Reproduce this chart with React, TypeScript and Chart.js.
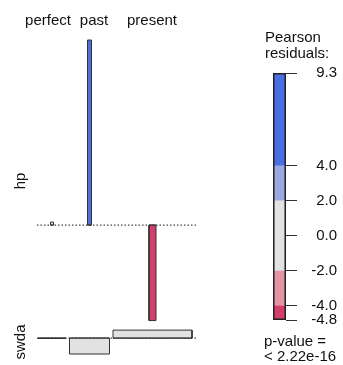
import React, { useEffect, useRef } from "react";
import { Chart, registerables } from "chart.js";

Chart.register(...registerables);

// ---------- data ----------
const rowNames = ["hp", "swda"];
const colNames = ["perfect", "past", "present"];
// Pearson residuals per cell (rows x cols)
const hpResiduals = [0.15, 9.3, -4.8];
const swdaResiduals = [-0.02, -0.8, 0.4];
// expected counts per cell (bar width ~ sqrt(expected))
const hpExpected = [9, 16, 49];
const swdaExpected = [784, 1600, 6241];
// legend
const legendBreaks = [-4.8, -4, -2, 2, 4, 9.3];
const legendTicks = [9.3, 4, 2, 0, -2, -4, -4.8];
const legendTitle = ["Pearson", "residuals:"];
const pValueLines = ["p-value =", "< 2.22e-16"];

const residuals = [hpResiduals, swdaResiduals];
const expected = [hpExpected, swdaExpected];

// ---------- styling ----------
const BLUE = "#4A6FE3";
const LBLUE = "#9DA8E2";
const GRAY = "#E2E2E2";
const PINK = "#E495A5";
const RED = "#D33F6A";
const FONT = "'Liberation Sans', Arial, Helvetica, sans-serif";
const shade = (r: number) =>
  r > 4 ? BLUE : r > 2 ? LBLUE : r >= -2 ? GRAY : r >= -4 ? PINK : RED;

// ---------- layout derived from data ----------
const COL_GAP = 3.5;
const ROW_GAP = 0.48;
const X_PAD = 1;
const widths = expected.map((row) => row.map((e) => Math.sqrt(e)));
const colWidth = colNames.map((_, j) => Math.max(...widths.map((r) => r[j])));
const colStart: number[] = [];
let accX = X_PAD;
colWidth.forEach((w) => {
  colStart.push(accX);
  accX += w + COL_GAP;
});
const xMax = accX - COL_GAP + 4;
const rowTop = residuals.map((r) => Math.max(0, ...r));
const rowBot = residuals.map((r) => Math.min(0, ...r));
const baselines: number[] = [];
rowNames.forEach((_, i) => {
  if (i === 0) baselines.push(0);
  else baselines.push(baselines[i - 1] + rowBot[i - 1] - ROW_GAP - rowTop[i]);
});
const yMax = rowTop[0];
const yMin = baselines[baselines.length - 1] + rowBot[rowBot.length - 1];

const MAIN_W = 240;
const MAIN_H = 365;

function MainChart() {
  const ref = useRef<HTMLCanvasElement | null>(null);
  useEffect(() => {
    if (!ref.current) return;
    const datasets: any[] = [];
    baselines.forEach((b) => {
      datasets.push({
        type: "line",
        data: [
          { x: 0, y: b },
          { x: xMax, y: b },
        ],
        borderColor: "#444444",
        borderWidth: 1.2,
        borderDash: [1.5, 2],
        pointRadius: 0,
        fill: false,
        order: 2,
        clip: false,
      });
    });
    residuals.forEach((row, i) => {
      const b = baselines[i];
      row.forEach((r, j) => {
        const w = widths[i][j];
        const cx = colStart[j] + colWidth[j] / 2;
        const x0 = cx - w / 2;
        const x1 = cx + w / 2;
        const t = b + r;
        datasets.push({
          type: "line",
          data: [
            { x: x0, y: b },
            { x: x0, y: t },
            { x: x1, y: t },
            { x: x1, y: b },
            { x: x0, y: b },
            { x: x1, y: b },
          ],
          fill: "shape",
          backgroundColor: shade(r),
          borderColor: "#333333",
          borderWidth: 1,
          pointRadius: 0,
          tension: 0,
          order: 1,
          clip: false,
        });
      });
    });
    const chart = new Chart(ref.current, {
      type: "line",
      data: { datasets },
      options: {
        animation: false,
        responsive: false,
        devicePixelRatio: 1,
        events: [],
        layout: { padding: { left: 37, right: MAIN_W - 196, top: 40, bottom: MAIN_H - 354 } },
        plugins: { legend: { display: false }, tooltip: { enabled: false } },
        scales: {
          x: { type: "linear", min: 0, max: xMax, display: false },
          y: { type: "linear", min: yMin, max: yMax, display: false },
        },
      } as any,
    });
    return () => chart.destroy();
  }, []);
  return (
    <canvas
      ref={ref}
      width={MAIN_W}
      height={MAIN_H}
      style={{ position: "absolute", left: 0, top: 0, width: MAIN_W, height: MAIN_H }}
    />
  );
}

const LEG_LEFT = 262;
const LEG_TOP = 50;
const LEG_W = 75;
const LEG_H = 293;

function LegendChart() {
  const ref = useRef<HTMLCanvasElement | null>(null);
  useEffect(() => {
    if (!ref.current) return;
    const datasets: any[] = [];
    for (let k = 0; k < legendBreaks.length - 1; k++) {
      const lo = legendBreaks[k];
      const hi = legendBreaks[k + 1];
      datasets.push({
        data: [[lo, hi]],
        backgroundColor: shade((lo + hi) / 2),
        borderWidth: 0,
        grouped: false,
        barPercentage: 1,
        categoryPercentage: 1,
        order: 1,
      });
    }
    datasets.push({
      data: [[legendBreaks[0], legendBreaks[legendBreaks.length - 1]]],
      backgroundColor: "rgba(0,0,0,0)",
      borderColor: "#222222",
      borderWidth: 1.2,
      borderSkipped: false,
      grouped: false,
      barPercentage: 1,
      categoryPercentage: 1,
      order: 0,
    });
    const chart = new Chart(ref.current, {
      type: "bar",
      data: { labels: [""], datasets },
      options: {
        animation: false,
        responsive: false,
        devicePixelRatio: 1,
        events: [],
        layout: { padding: { left: 11, right: 0, top: 20, bottom: 20 } },
        plugins: { legend: { display: false }, tooltip: { enabled: false } },
        scales: {
          x: { display: false },
          y: {
            position: "right",
            min: legendBreaks[0],
            max: legendBreaks[legendBreaks.length - 1],
            afterBuildTicks: (s: any) => {
              s.ticks = legendTicks.map((v) => ({ value: v }));
            },
            afterFit: (s: any) => {
              s.width = 51;
            },
            ticks: {
              autoSkip: false,
              padding: 14,
              crossAlign: "far",
              color: "#111111",
              font: { size: 15, family: FONT },
              callback: (v: any) => Number(v).toFixed(1),
            },
            grid: {
              drawOnChartArea: false,
              drawTicks: true,
              tickLength: 11,
              color: "#333333",
            },
            border: { display: false },
          },
        },
      } as any,
    });
    return () => chart.destroy();
  }, []);
  return (
    <canvas
      ref={ref}
      width={LEG_W}
      height={LEG_H}
      style={{ position: "absolute", left: LEG_LEFT, top: LEG_TOP, width: LEG_W, height: LEG_H }}
    />
  );
}

const textStyle: React.CSSProperties = {
  position: "absolute",
  fontFamily: FONT,
  fontSize: 15,
  color: "#111",
  whiteSpace: "nowrap",
  lineHeight: "16px",
};

const colLabelX = [48, 94, 152];
const rowLabelY = [181, 342];

export default function App() {
  return (
    <div
      style={{
        position: "fixed",
        left: 0,
        top: 0,
        width: 343,
        height: 365,
        background: "#fff",
        overflow: "hidden",
      }}
    >
      <MainChart />
      <LegendChart />
      {colNames.map((c, j) => (
        <div
          key={c}
          style={{ ...textStyle, left: colLabelX[j], top: 20, transform: "translate(-50%, -50%)" }}
        >
          {c}
        </div>
      ))}
      {rowNames.map((r, i) => (
        <div
          key={r}
          style={{
            ...textStyle,
            left: 20,
            top: rowLabelY[i],
            transform: "translate(-50%, -50%) rotate(-90deg)",
          }}
        >
          {r}
        </div>
      ))}
      {legendTitle.map((t, k) => (
        <div key={t} style={{ ...textStyle, left: 265, top: 37 + k * 16, transform: "translateY(-50%)" }}>
          {t}
        </div>
      ))}
      {pValueLines.map((t, k) => (
        <div key={t} style={{ ...textStyle, left: 264, top: 341 + k * 15, transform: "translateY(-50%)" }}>
          {t}
        </div>
      ))}
    </div>
  );
}
